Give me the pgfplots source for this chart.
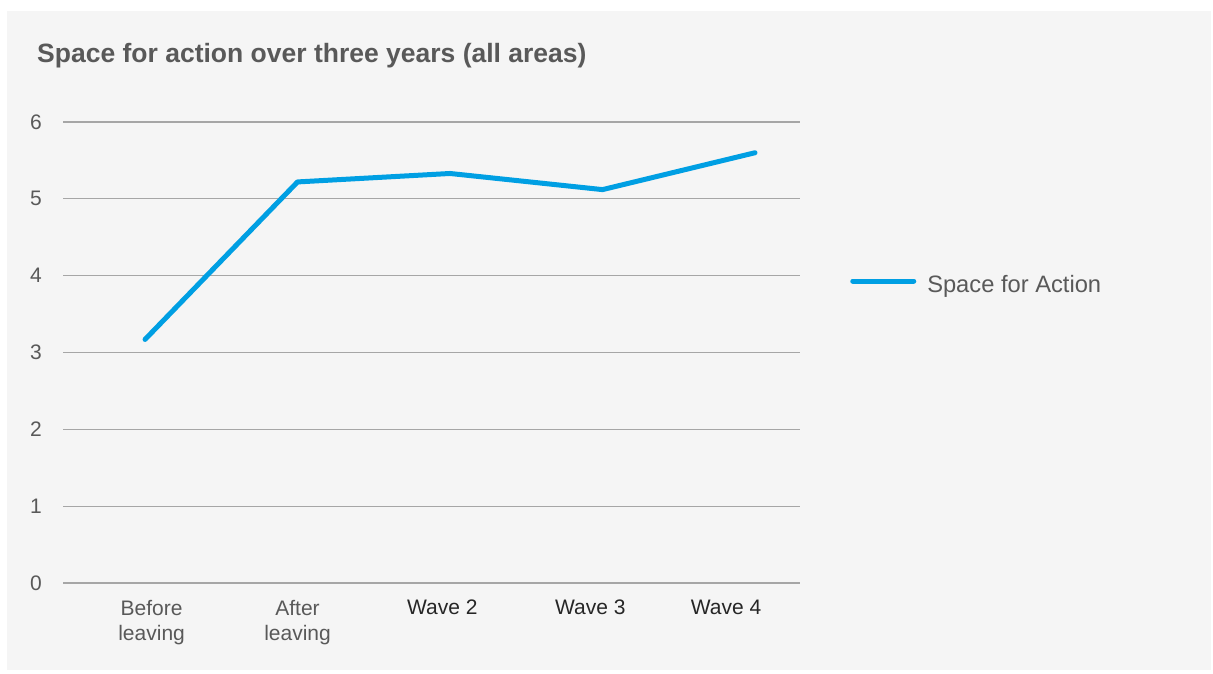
\documentclass[border=0pt]{standalone}
\usepackage{fontspec}
\setmainfont{Liberation Sans}
\usepackage{pgfplots}
\pgfplotsset{compat=1.18}
\definecolor{panel}{HTML}{F5F5F5}
\definecolor{gridc}{HTML}{A6A6A6}
\definecolor{linec}{HTML}{009FE3}
\definecolor{txt}{HTML}{595959}
\definecolor{dark}{HTML}{262626}
\begin{document}
\begin{tikzpicture}[x=1pt,y=1pt]
\path[fill=white] (0,0) rectangle (1213,673);
\fill[panel] (7,3) rectangle (1211,662);
\node[anchor=base west, text=txt, font=\fontsize{26.5}{30}\selectfont\bfseries, inner sep=0pt] at (37,610) {Space for action over three years (all areas)};
\begin{axis}[
  at={(63pt,90pt)}, anchor=south west,
  width=737pt, height=461pt, scale only axis,
  xmin=-0.538, xmax=4.295, ymin=0, ymax=6,
  axis line style={draw=none},
  major tick length=0pt,
  ymajorgrids, xmajorgrids=false,
  major grid style={gridc, line width=1.3pt},
  ytick={0,1,2,3,4,5,6},
  xtick={0.043,1,1.95,2.92,3.81},
  xticklabels={Before\\leaving, After\\leaving, \raisebox{-3pt}{\textcolor{dark}{Wave 2}}, \raisebox{-3pt}{\textcolor{dark}{Wave 3}}, \raisebox{-3pt}{\textcolor{dark}{Wave 4}}},
  yticklabel style={anchor=east, inner sep=0pt, xshift=-21pt, text=txt, font=\fontsize{21}{25}\selectfont},
  xticklabel style={anchor=north, inner sep=0pt, yshift=-17pt, align=center, text=txt, font=\fontsize{21}{25}\selectfont},
  /pgf/number format/assume math mode=true,
  clip=false,
  legend style={at={(1.0679,0.6463)}, anchor=west, draw=none, fill=none, inner sep=0pt,
    column sep=9pt,
    font=\fontsize{23.7}{28}\selectfont, text=txt},
  legend cell align=left,
  legend image code/.code={\draw[#1, line cap=round] (0pt,4pt) -- (61pt,4pt);},
]
\addplot[linec, line width=5pt, line join=round, line cap=round] coordinates {(0,3.17) (1,5.22) (2,5.33) (3,5.12) (4,5.60)};
\addlegendentry{Space for Action}
\end{axis}
\end{tikzpicture}
\end{document}
